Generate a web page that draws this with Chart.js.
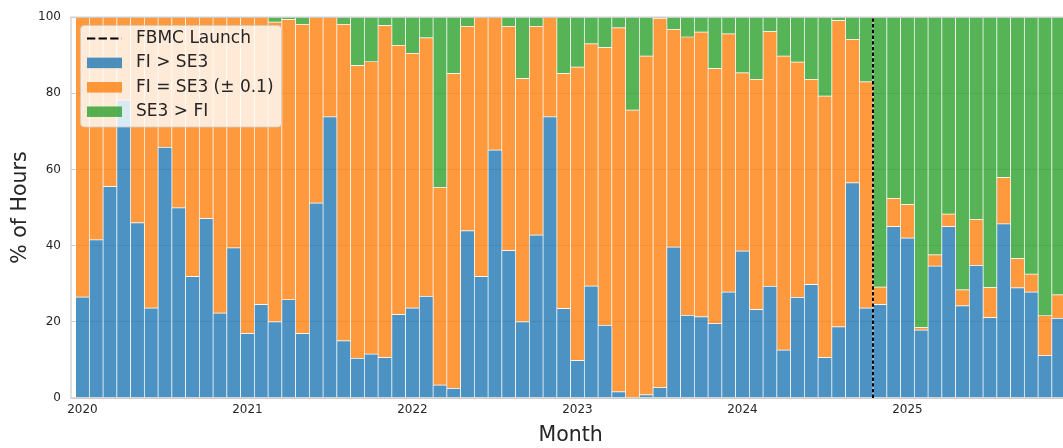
<!DOCTYPE html>
<html>
<head>
<meta charset="utf-8">
<script src="https://cdn.jsdelivr.net/npm/chart.js@4.4.1/dist/chart.umd.min.js"></script>
<style>
  html, body { margin: 0; padding: 0; background: #ffffff; overflow: hidden; }
  #wrap { width: 1085px; height: 448px; }
</style>
</head>
<body>
<div id="wrap"><canvas id="c" width="1085" height="448"></canvas></div>
<script>
// Year tick labels; one bar per month from Jan 2020 to Dec 2025
const yearLabels = ['2020', '2021', '2022', '2023', '2024', '2025'];
const monthNums = ['01','02','03','04','05','06','07','08','09','10','11','12'];
const months = [];
yearLabels.forEach(y => monthNums.forEach(m => months.push(y + '-' + m)));

// Share of hours per month (%) in each price relation category
const fiAboveSe3 = [
  26.5, 41.5, 55.5, 78.2, 46.0, 23.6, 65.8, 49.9, 31.9, 47.1, 22.3, 39.4,
  16.9, 24.5, 20.0, 25.8, 16.9, 51.2, 73.8, 15.0, 10.4, 11.5, 10.6, 21.9,
  23.6, 26.7, 3.4, 2.5, 43.9, 31.9, 65.1, 38.7, 20.0, 42.8, 73.8, 23.5,
  9.8, 29.4, 19.1, 1.6, 0.0, 0.8, 2.7, 39.6, 21.7, 21.3, 19.5, 27.8,
  38.6, 23.2, 29.3, 12.6, 26.4, 29.8, 10.6, 18.7, 56.5, 23.6, 24.5, 45.0,
  42.0, 17.8, 34.6, 45.0, 24.2, 34.8, 21.1, 45.7, 28.9, 27.8, 11.1, 20.9
];
const fiEqualSe3 = [
  73.5, 58.5, 44.5, 21.8, 54.0, 76.4, 34.2, 50.1, 68.1, 52.9, 77.7, 60.6,
  83.1, 75.5, 78.7, 73.6, 81.2, 48.8, 26.2, 83.1, 76.9, 76.8, 87.2, 70.7,
  66.9, 67.9, 51.9, 82.7, 53.7, 68.1, 34.9, 58.8, 63.9, 54.8, 26.2, 61.7,
  77.1, 63.6, 72.9, 95.6, 75.6, 89.0, 97.0, 57.2, 73.1, 74.8, 67.0, 67.8,
  46.8, 60.5, 66.9, 77.2, 61.8, 53.9, 68.7, 80.4, 37.7, 59.4, 4.6, 7.4,
  8.8, 0.7, 3.0, 3.3, 4.2, 12.1, 7.9, 12.2, 7.7, 4.7, 10.5, 6.2
];
const se3AboveFi = [
  0, 0, 0, 0, 0, 0, 0, 0, 0, 0, 0, 0,
  0, 0, 1.3, 0.6, 1.9, 0, 0, 1.9, 12.7, 11.7, 2.2, 7.4,
  9.5, 5.4, 44.7, 14.8, 2.4, 0, 0, 2.5, 16.1, 2.4, 0, 14.8,
  13.1, 7.0, 8.0, 2.8, 24.4, 10.2, 0.3, 3.2, 5.2, 3.9, 13.5, 4.4,
  14.6, 16.3, 3.8, 10.2, 11.8, 16.3, 20.7, 0.9, 5.8, 17.0, 70.9, 47.6,
  49.2, 81.5, 62.4, 51.7, 71.6, 53.1, 71.0, 42.1, 63.4, 67.5, 78.4, 72.9
];
const yTicks = [0, 20, 40, 60, 80, 100];

// FBMC launch marker sits on the boundary between Oct and Nov 2024
const launchMonth = '2024-11';
const launchPos = months.indexOf(launchMonth) - 0.5;

const FONT = '"DejaVu Sans", sans-serif';
const TEXT = '#262626';

const series = [
  { label: 'FI > SE3', values: fiAboveSe3, color: 'rgba(31,119,180,0.8)' },
  { label: 'FI = SE3 (\u00b1 0.1)', values: fiEqualSe3, color: 'rgba(255,127,14,0.8)' },
  { label: 'SE3 > FI', values: se3AboveFi, color: 'rgba(44,160,44,0.8)' }
];

const datasets = series.map(s => ({
  label: s.label,
  data: s.values.map((v, i) => ({ x: i, y: v })),
  backgroundColor: s.color,
  borderColor: 'rgba(255,255,255,0.9)',
  borderWidth: 0.7,
  borderSkipped: false,
  barPercentage: 1,
  categoryPercentage: 1
}));

// Plot frame, launch line and the legend box
const overlay = {
  id: 'overlay',
  afterDatasetsDraw(chart) {
    const { ctx, chartArea: a, scales: { x, y } } = chart;
    ctx.save();
    ctx.strokeStyle = '#cccccc';
    ctx.lineWidth = 1.25;
    ctx.strokeRect(a.left, a.top, a.right - a.left, a.bottom - a.top);

    const px = Math.round(x.getPixelForValue(launchPos));
    ctx.strokeStyle = '#000000';
    ctx.lineWidth = 2;
    ctx.setLineDash([3.4, 2.3]);
    ctx.beginPath();
    ctx.moveTo(px, y.getPixelForValue(0));
    ctx.lineTo(px, y.getPixelForValue(100));
    ctx.stroke();
    ctx.restore();
  },
  afterDraw(chart) {
    const { ctx } = chart;
    const items = [{ label: 'FBMC Launch', dashed: true }]
      .concat(series.map(s => ({ label: s.label, color: s.color })));
    ctx.save();
    const bx = 80.5, by = 25.5, bw = 201, bh = 101.5;
    ctx.beginPath();
    ctx.roundRect(bx, by, bw, bh, 4);
    ctx.fillStyle = 'rgba(255,255,255,0.8)';
    ctx.fill();
    ctx.strokeStyle = 'rgba(204,204,204,0.8)';
    ctx.lineWidth = 1;
    ctx.stroke();

    ctx.font = '17px ' + FONT;
    ctx.textBaseline = 'middle';
    ctx.textAlign = 'left';
    items.forEach((it, i) => {
      const cy = 38.5 + i * 24.4;
      if (it.dashed) {
        ctx.strokeStyle = '#000000';
        ctx.lineWidth = 2;
        ctx.setLineDash([8.3, 3.3]);
        ctx.beginPath();
        ctx.moveTo(87, cy);
        ctx.lineTo(122, cy);
        ctx.stroke();
        ctx.setLineDash([]);
      } else {
        ctx.fillStyle = it.color;
        ctx.fillRect(87, cy - 5.25, 35, 10.5);
      }
      ctx.fillStyle = TEXT;
      ctx.fillText(it.label, 136, cy);
    });
    ctx.restore();
  }
};

new Chart(document.getElementById('c'), {
  type: 'bar',
  data: { datasets },
  plugins: [overlay],
  options: {
    responsive: false,
    animation: false,
    events: [],
    layout: { padding: { top: 16, right: 14.8, left: 0, bottom: 0 } },
    plugins: { legend: { display: false }, tooltip: { enabled: false } },
    scales: {
      x: {
        type: 'linear',
        offset: false,
        stacked: true,
        min: -0.835,
        max: months.length - 1 + 0.835,
        grid: { display: false, drawTicks: false },
        border: { display: false },
        afterBuildTicks(scale) {
          scale.ticks = yearLabels.map((_, k) => ({ value: months.indexOf(yearLabels[k] + '-01') }));
        },
        afterFit(scale) { scale.height = 50; },
        ticks: {
          autoSkip: false,
          maxRotation: 0,
          padding: 5,
          color: TEXT,
          font: { family: FONT, size: 12 },
          callback: (value) => months[value] ? months[value].slice(0, 4) : ''
        },
        title: {
          display: true,
          text: 'Month',
          color: TEXT,
          font: { family: FONT, size: 20.5 },
          padding: { top: 0, bottom: 0 }
        }
      },
      y: {
        stacked: true,
        min: 0,
        max: 100,
        grid: { color: '#cccccc', lineWidth: 1, drawTicks: false },
        border: { display: false },
        afterBuildTicks(scale) { scale.ticks = yTicks.map(v => ({ value: v })); },
        afterFit(scale) { scale.width = 71; },
        ticks: {
          padding: 10,
          color: TEXT,
          font: { family: FONT, size: 12 }
        },
        title: {
          display: true,
          text: '% of Hours',
          color: TEXT,
          font: { family: FONT, size: 20.5 },
          padding: { top: 8, bottom: 0 }
        }
      }
    }
  }
});
</script>
</body>
</html>
